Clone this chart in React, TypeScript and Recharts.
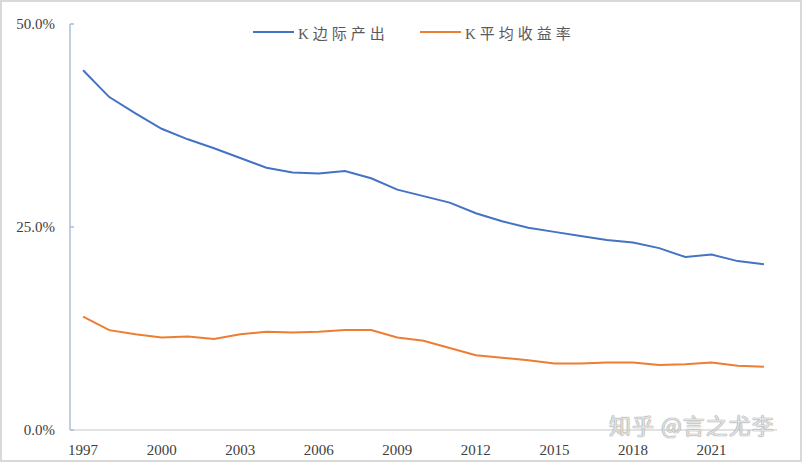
import React from "react";
import { LineChart, Line, XAxis, YAxis } from "recharts";

if (typeof document !== "undefined") {
  document.body.style.margin = "0";
}

const years = [
  1997, 1998, 1999, 2000, 2001, 2002, 2003, 2004, 2005, 2006, 2007, 2008, 2009,
  2010, 2011, 2012, 2013, 2014, 2015, 2016, 2017, 2018, 2019, 2020, 2021, 2022, 2023,
];
const marginalOutput = [
  44.3, 41.0, 39.0, 37.1, 35.8, 34.7, 33.5, 32.3, 31.7, 31.6, 31.9, 31.0, 29.6,
  28.8, 28.0, 26.7, 25.7, 24.9, 24.4, 23.9, 23.4, 23.1, 22.4, 21.3, 21.6, 20.8, 20.4,
];
const avgReturn = [
  13.95, 12.3, 11.8, 11.4, 11.5, 11.2, 11.8, 12.1, 12.0, 12.1, 12.3, 12.3, 11.4,
  11.0, 10.1, 9.2, 8.9, 8.6, 8.2, 8.2, 8.3, 8.3, 8.0, 8.1, 8.3, 7.9, 7.8,
];
const xTicks = [1997, 2000, 2003, 2006, 2009, 2012, 2015, 2018, 2021];
const yTicks = [0, 25, 50];
const seriesNames = ["K边际产出", "K平均收益率"];
const seriesColors = ["#4472C4", "#ED7D31"];
const watermark = "知乎 @言之尤李";

const data = years.map((y, i) => ({
  year: y,
  a: marginalOutput[i],
  b: avgReturn[i],
}));

const serif = "'Liberation Serif', 'Times New Roman', 'Noto Sans CJK SC', serif";

export default function App() {
  return (
    <div style={{ position: "relative", width: 803, height: 463, background: "#fff", overflow: "hidden" }}>
      <div
        style={{
          position: "absolute",
          left: 0,
          top: 0,
          width: 798,
          height: 458,
          border: "2px solid #d9d9d9",
        }}
      />
      <LineChart
        width={803}
        height={463}
        data={data}
        margin={{ top: 24, right: 26, bottom: 0, left: 0 }}
      >
        <XAxis
          dataKey="year"
          type="number"
          domain={[1996.5, 2023.5]}
          ticks={xTicks}
          interval={0}
          height={33}
          tickLine={false}
          tickSize={0}
          tickMargin={14}
          axisLine={{ stroke: "#d9d9d9", strokeWidth: 1.5 }}
          tick={{ fill: "#404040", fontSize: 15, fontFamily: serif }}
        />
        <YAxis
          type="number"
          domain={[0, 50]}
          ticks={yTicks}
          width={70}
          tickSize={-4}
          tickMargin={19}
          tickLine={{ stroke: "#a9bfd6", strokeWidth: 1.5 }}
          axisLine={{ stroke: "#a9bfd6", strokeWidth: 1.5 }}
          tickFormatter={(v: number) => `${v.toFixed(1)}%`}
          tick={{ fill: "#404040", fontSize: 15, fontFamily: serif }}
        />
        <Line
          type="linear"
          dataKey="a"
          name={seriesNames[0]}
          stroke={seriesColors[0]}
          strokeWidth={2}
          dot={false}
          isAnimationActive={false}
        />
        <Line
          type="linear"
          dataKey="b"
          name={seriesNames[1]}
          stroke={seriesColors[1]}
          strokeWidth={2}
          dot={false}
          isAnimationActive={false}
        />
      </LineChart>
      {[0, 1].map((i) => (
        <div
          key={i}
          style={{
            position: "absolute",
            left: i === 0 ? 253 : 420,
            top: 22,
            height: 20,
            display: "flex",
            alignItems: "center",
            fontFamily: serif,
            fontSize: 15,
            color: "#595959",
            letterSpacing: 4,
            whiteSpace: "nowrap",
          }}
        >
          <span
            style={{
              display: "inline-block",
              width: 41,
              height: 2,
              background: seriesColors[i],
              marginRight: 4,
            }}
          />
          <span>{seriesNames[i]}</span>
        </div>
      ))}
      <div
        style={{
          position: "absolute",
          left: 609,
          top: 413,
          height: 22,
          lineHeight: "22px",
          fontFamily: "'Noto Sans CJK SC', sans-serif",
          fontSize: 22,
          color: "rgba(255,255,255,0.75)",
          textShadow: "0 0 1px #8a8a8a, 0 0 1px #8a8a8a",
          whiteSpace: "nowrap",
          letterSpacing: 1,
        }}
      >
        {watermark}
      </div>
    </div>
  );
}
